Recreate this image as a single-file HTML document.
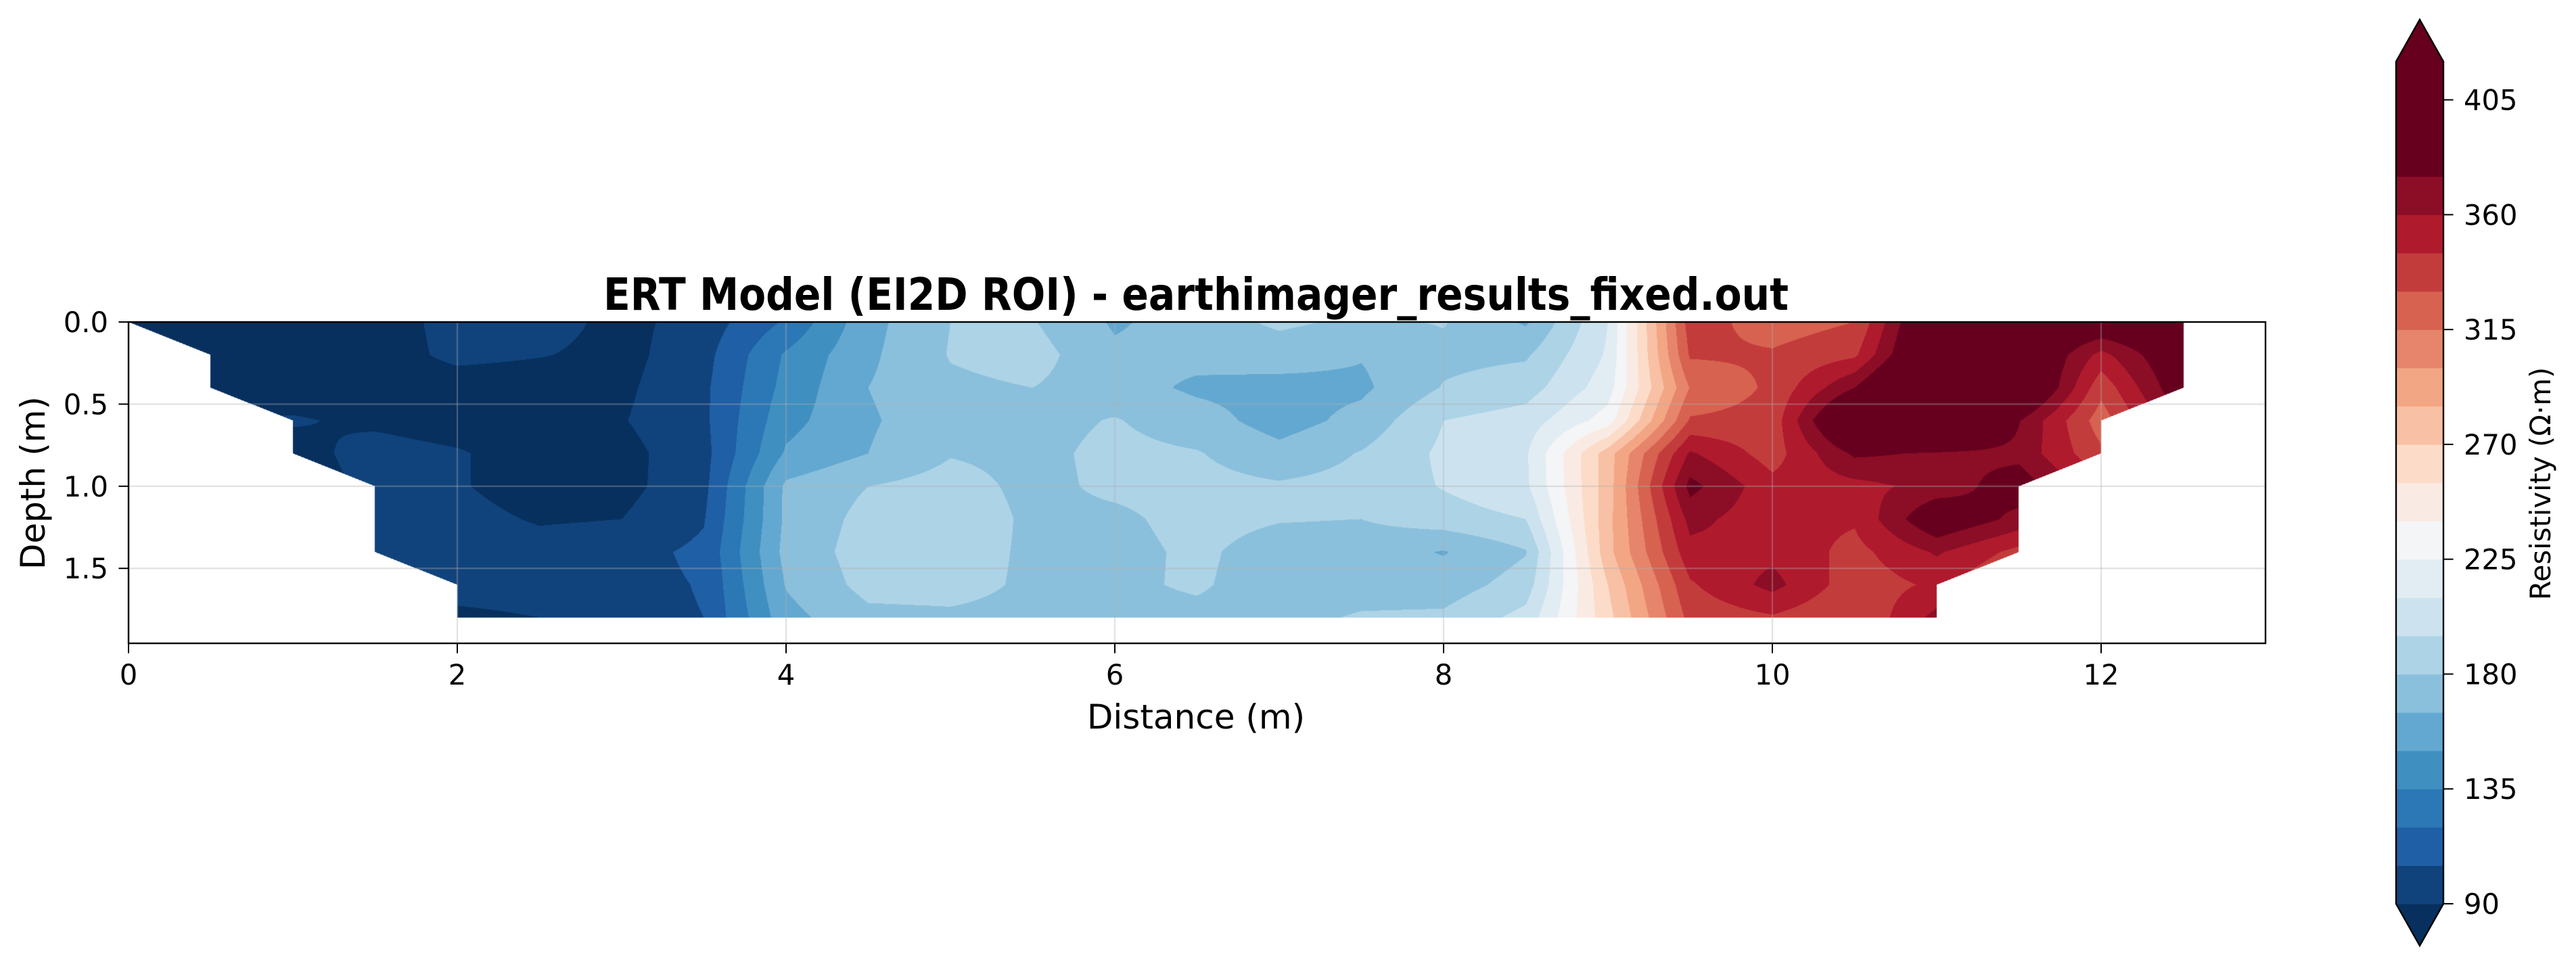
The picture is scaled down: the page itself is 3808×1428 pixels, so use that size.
<!DOCTYPE html>
<html><head><meta charset="utf-8">
<style>
html,body{margin:0;padding:0;background:#fff;}
#wrap{position:relative;width:3808px;height:1428px;overflow:hidden;background:#fff;}
#field{position:absolute;left:190px;top:476px;}
svg{position:absolute;left:0;top:0;}
text{font-family:"DejaVu Sans","Liberation Sans",sans-serif;fill:#000;}
</style></head>
<body>
<div id="wrap">
<canvas id="field" width="3159" height="475"></canvas>
<svg id="ov" width="3808" height="1428">
  <text x="1768" y="458" font-size="66" font-weight="bold" text-anchor="middle" textLength="1752" lengthAdjust="spacingAndGlyphs">ERT Model (EI2D ROI) - earthimager_results_fixed.out</text>
  <text x="1768" y="1077" font-size="50" text-anchor="middle">Distance (m)</text>
  <text x="0" y="0" font-size="50" text-anchor="middle" transform="translate(66,714) rotate(-90)">Depth (m)</text>
  <text x="0" y="0" font-size="41.7" text-anchor="middle" transform="translate(3770,715) rotate(-90)">Resistivity (Ω·m)</text>
  <g id="grid"></g>
  <g id="axes"></g>
  <g id="cbar"></g>
</svg>
</div>
<script>
// ---- data ----
const distances = [0,0.5,1,1.5,2,2.5,3,3.5,4,4.5,5,5.5,6,6.5,7,7.5,8,8.5,9,9.5,10,10.5,11,11.5,12,12.5];
const depths = [0,0.2,0.4,0.6,0.8,1.0,1.2,1.4,1.6,1.8];
const N = null;
const resistivity = [
 [80,80,80,80,97,97,85,97,122,160,180,181,163,172,183,177,181,163,210,338,322,330,410,400,395,400],
 [N,80,80,80,95,91,85,100,137,162,181,186,168,170,172,166,176,178,212,332,332,342,415,405,355,395],
 [N,80,80,80,80,80,87,102,140,165,177,180,172,162,160,162,181,188,218,316,333,375,440,412,335,390],
 [N,N,92,86,80,80,89,102,145,163,175,175,181,172,158,170,195,202,232,332,336,415,437,376,322,N],
 [N,N,82,98,92,80,85,100,152,165,179,176,184,181,170,181,198,208,278,362,338,378,373,370,333,N],
 [N,N,N,95,92,80,85,101,168,180,186,176,183,185,182,185,196,207,278,380,350,355,365,385,N,N],
 [N,N,N,97,97,88,90,104,168,185,190,177,177,185,181,180,188,195,280,365,350,347,392,370,N,N],
 [N,N,N,97,97,98,100,108,170,187,188,177,175,183,173,172,164,179,280,355,356,340,362,340,N,N],
 [N,N,N,N,97,98,100,106,166,185,186,177,177,182,172,172,172,187,270,343,365,336,348,N,N,N],
 [N,N,N,N,86,90,100,105,160,176,177,175,175,176,174,182,183,200,265,335,343,330,365,N,N,N]
];
const levelMin = 90, levelStep = 15, levelCount = 22;
const bandColors = ["#10437c","#1f5fa5","#2c78b6","#3f8fc1","#63a8d0","#8bc0dc","#add3e6","#cce3ef","#e2edf3","#f4f5f6","#f9ebe3","#fcdcc9","#f8c0a4","#f3a683","#e6856b","#d6624f","#c33c3c","#b01a2d","#8c0d26","#67001f","#67001f","#67001f"];
const underColor = "#07305f", overColor = "#67001f";
const xTicks = [0,2,4,6,8,10,12];
const yTicks = [0,0.5,1.0,1.5];
const cbTicks = [90,135,180,225,270,315,360,405];

// ---- scales ----
const AX = {l:190, t:476, r:3349, b:951};
const xMax = 13, pxPerM_y = 242.8;
const xs = v => AX.l + v*(AX.r-AX.l)/xMax;
const ys = v => AX.t + v*pxPerM_y;
const CB = {l:3542, r:3612, t:91, b:1336, tipT:29, tipB:1398};
const cbMax = levelMin + levelStep*levelCount;
const cy = v => CB.b - (v-levelMin)*(CB.b-CB.t)/(cbMax-levelMin);

function hex(c){return [parseInt(c.substr(1,2),16),parseInt(c.substr(3,2),16),parseInt(c.substr(5,2),16)];}
const bandRGB = bandColors.map(hex), underRGB = hex(underColor), overRGB = hex(overColor);
function colorFor(v){
  if (v < levelMin) return underRGB;
  const b = Math.floor((v-levelMin)/levelStep);
  if (b >= levelCount) return overRGB;
  return bandRGB[b];
}

// ---- contour field ----
(function(){
  const cv = document.getElementById('field');
  const ctx = cv.getContext('2d');
  const W = cv.width, H = cv.height;
  const img = ctx.createImageData(W,H);
  const d = img.data;
  const nx = distances.length, nz = depths.length;
  const x0 = distances[0], x1 = distances[nx-1], z0 = depths[0], z1 = depths[nz-1];
  for (let py=0; py<H; py++){
    const z = (py+0.5)/pxPerM_y;
    if (z < z0 || z > z1) continue;
    let ri = 0; while (ri < nz-2 && depths[ri+1] <= z) ri++;
    const fz = (z-depths[ri])/(depths[ri+1]-depths[ri]);
    for (let px=0; px<W; px++){
      const x = (px+0.5)*xMax/(AX.r-AX.l);
      if (x < x0 || x > x1) continue;
      let ci = Math.min(nx-2, Math.floor((x-x0)/(distances[1]-distances[0])));
      const fx = (x-distances[ci])/(distances[ci+1]-distances[ci]);
      const v00 = resistivity[ri][ci], v10 = resistivity[ri][ci+1], v01 = resistivity[ri+1][ci], v11 = resistivity[ri+1][ci+1];
      const miss = (v00===null)+(v10===null)+(v01===null)+(v11===null);
      let v;
      if (miss === 0){
        v = v00*(1-fx)*(1-fz)+v10*fx*(1-fz)+v01*(1-fx)*fz+v11*fx*fz;
      } else if (miss === 1){
        if (v01===null){ if (fx < fz) continue; v = v00+(v10-v00)*fx+(v11-v10)*fz; }
        else if (v10===null){ if (fz < fx) continue; v = v00+(v01-v00)*fz+(v11-v01)*fx; }
        else if (v00===null){ if (fx+fz < 1) continue; v = v11+(v10-v11)*(1-fz)+(v01-v11)*(1-fx); }
        else { if (fx+fz > 1) continue; v = v00+(v10-v00)*fx+(v01-v00)*fz; }
      } else continue;
      const c = colorFor(v);
      const k = (py*W+px)*4;
      d[k]=c[0]; d[k+1]=c[1]; d[k+2]=c[2]; d[k+3]=255;
    }
  }
  ctx.putImageData(img,0,0);
})();

// ---- axes, grid, colorbar ----
const NS = "http://www.w3.org/2000/svg";
function mk(tag, attrs, parent){
  const e = document.createElementNS(NS, tag);
  for (const k in attrs) e.setAttribute(k, attrs[k]);
  parent.appendChild(e); return e;
}
const grid = document.getElementById('grid');
const axes = document.getElementById('axes');
const cbar = document.getElementById('cbar');

xTicks.forEach(t=>{
  const g = mk('line',{x1:xs(t),x2:xs(t),y1:AX.t,y2:AX.b,stroke:'#b0b0b0','stroke-opacity':0.35,'stroke-width':2.4},grid);
  
  
  const tk = mk('line',{x1:xs(t),x2:xs(t),y1:AX.b,y2:AX.b+14.6,stroke:'#000','stroke-width':2},axes);
  
  
  const lb = mk('text',{x:xs(t),y:1012,'font-size':41.7,'text-anchor':'middle'},axes);
  lb.textContent = String(t);
  
  
});
yTicks.forEach(t=>{
  if (t>0){
    const g = mk('line',{x1:AX.l,x2:AX.r,y1:ys(t),y2:ys(t),stroke:'#b0b0b0','stroke-opacity':0.35,'stroke-width':2.4},grid);
    
    
  }
  const tk = mk('line',{x1:AX.l-14.6,x2:AX.l,y1:ys(t),y2:ys(t),stroke:'#000','stroke-width':2},axes);
  
  
  const lb = mk('text',{x:160,y:ys(t)+15,'font-size':41.7,'text-anchor':'end'},axes);
  lb.textContent = t.toFixed(1);
  
  
});
const frame = mk('rect',{x:AX.l,y:AX.t,width:AX.r-AX.l,height:AX.b-AX.t,fill:'none',stroke:'#000','stroke-width':2.4},axes);



// colorbar bands
const midX = (CB.l+CB.r)/2;
const under = mk('polygon',{points:`${CB.l},${CB.b} ${CB.r},${CB.b} ${midX},${CB.tipB}`,fill:underColor},cbar);


const over = mk('polygon',{points:`${CB.l},${CB.t} ${CB.r},${CB.t} ${midX},${CB.tipT}`,fill:overColor},cbar);


bandColors.forEach((c,i)=>{
  const lo = levelMin+i*levelStep, hi = lo+levelStep;
  const r = mk('rect',{x:CB.l,y:cy(hi),width:CB.r-CB.l,height:cy(lo)-cy(hi)+0.6,fill:c},cbar);
  
  
});
const outline = mk('path',{d:`M${CB.l},${CB.t} L${midX},${CB.tipT} L${CB.r},${CB.t} L${CB.r},${CB.b} L${midX},${CB.tipB} L${CB.l},${CB.b} Z`,fill:'none',stroke:'#000','stroke-width':2.4},cbar);


cbTicks.forEach(t=>{
  const tk = mk('line',{x1:CB.r,x2:CB.r+14.6,y1:cy(t),y2:cy(t),stroke:'#000','stroke-width':2},cbar);
  
  
  const lb = mk('text',{x:3642,y:cy(t)+15,'font-size':41.7},cbar);
  lb.textContent = String(t);
  
  
});
</script>
</body></html>
